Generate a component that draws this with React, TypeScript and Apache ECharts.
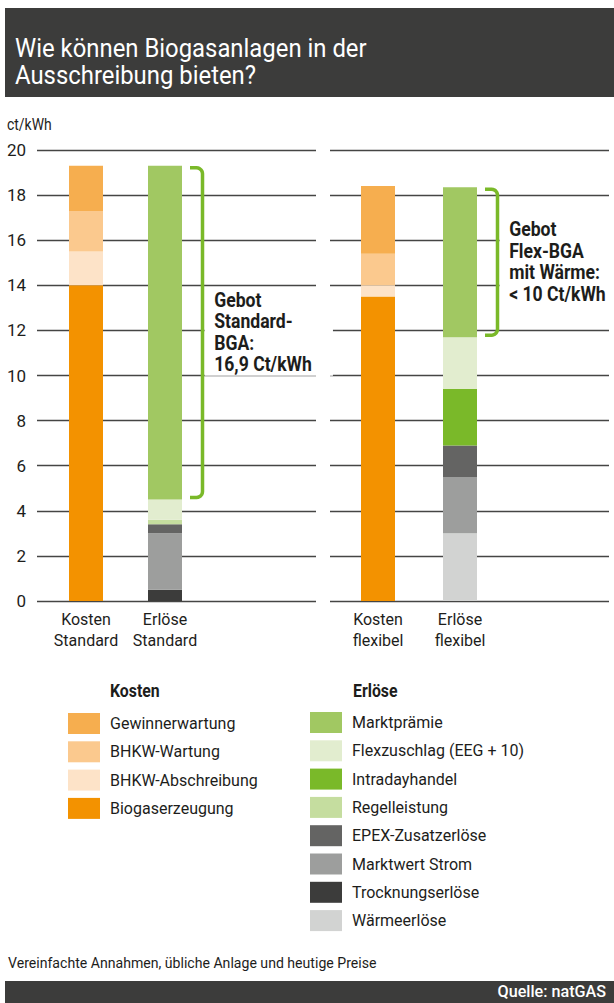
import React, { useEffect, useRef } from 'react';
import * as echarts from 'echarts';

const FONT = "Roboto, 'Liberation Sans', sans-serif";
const INK = '#1d1d1b';
const DARK = '#3c3c3b';

const titleText = 'Wie können Biogasanlagen in der\nAusschreibung bieten?';
const unitText = 'ct/kWh';
const noteText = 'Vereinfachte Annahmen, übliche Anlage und heutige Preise';
const sourceText = 'Quelle: natGAS';

const yMin = 0;
const yMax = 20;
const yInterval = 2;

const categoriesStandard = ['Kosten\nStandard', 'Erlöse\nStandard'];
const categoriesFlex = ['Kosten\nflexibel', 'Erlöse\nflexibel'];

// Kosten, bottom to top
const kostenNames = ['Biogaserzeugung', 'BHKW-Abschreibung', 'BHKW-Wartung', 'Gewinnerwartung'];
const kostenColors = ['#f39200', '#fde3c8', '#fbc98e', '#f6ae4f'];
const kostenStandard = [14.0, 1.5, 1.8, 2.0];
const kostenFlex = [13.5, 0.5, 1.4, 3.0];

// Erlöse, bottom to top
const erloesNames = [
  'Wärmeerlöse',
  'Trocknungserlöse',
  'Marktwert Strom',
  'EPEX-Zusatzerlöse',
  'Regelleistung',
  'Intradayhandel',
  'Flexzuschlag (EEG + 10)',
  'Marktprämie',
];
const erloesColors = ['#d2d3d2', '#3c3c3b', '#9d9e9d', '#646463', '#c5dd9f', '#7ab929', '#e2edcf', '#a1c862'];
const erloesStandard = [0, 0.5, 2.5, 0.4, 0.2, 0, 0.9, 14.8];
const erloesFlex = [3.0, 0, 2.5, 1.4, 0, 2.5, 2.3, 6.65];

const gebotStandard = 'Gebot\nStandard-\nBGA:\n16,9 Ct/kWh';
const gebotFlex = 'Gebot\nFlex-BGA\nmit Wärme:\n< 10 Ct/kWh';

const BRACKET = '#7ab929';
const BAR_W = 34;

const sum = (a: number[]) => a.reduce((s, v) => s + v, 0);

function bracketSeries(axisIndex: number, values: number[], label: string) {
  const low = sum(values.slice(0, values.length - 1));
  const high = sum(values);
  return {
    type: 'custom',
    xAxisIndex: axisIndex,
    yAxisIndex: axisIndex,
    clip: false,
    z: 5,
    silent: true,
    data: [[1, low, high]],
    renderItem: (params: any, api: any) => {
      const c = api.value(0);
      const pTop = api.coord([c, api.value(2)]);
      const pBot = api.coord([c, api.value(1)]);
      const barRight = pTop[0] + BAR_W / 2;
      const x0 = barRight + 8;
      const xv = barRight + 20.5;
      const yT = pTop[1] + 2;
      const yB = pBot[1] - 2;
      const r = 6;
      const pts: number[][] = [[x0, yT]];
      for (let i = 0; i <= 6; i++) {
        const a = -Math.PI / 2 + (Math.PI / 2) * (i / 6);
        pts.push([xv - r + r * Math.cos(a), yT + r + r * Math.sin(a)]);
      }
      for (let i = 0; i <= 6; i++) {
        const a = (Math.PI / 2) * (i / 6);
        pts.push([xv - r + r * Math.cos(a), yB - r + r * Math.sin(a)]);
      }
      pts.push([x0, yB]);
      return {
        type: 'group',
        children: [
          {
            type: 'text',
            x: xv + 2,
            y: (yT + yB) / 2,
            scaleX: 0.88,
            z2: 1,
            style: {
              text: label,
              fontFamily: FONT,
              fontSize: 20,
              fontWeight: 'bold',
              lineHeight: 21.5,
              fill: INK,
              align: 'left',
              verticalAlign: 'middle',
              backgroundColor: '#ffffff',
              padding: [0, 24, 0, 11],
            },
          },
          {
            type: 'polyline',
            z2: 2,
            shape: { points: pts },
            style: { stroke: BRACKET, lineWidth: 3.5, fill: null, lineJoin: 'round' },
          },
        ],
      };
    },
  };
}

function barSeries(axisIndex: number, kosten: number[], erloese: number[]) {
  const out: any[] = [];
  const stack = 'stack' + axisIndex;
  kostenNames.forEach((name, i) => {
    out.push({
      type: 'bar',
      name,
      xAxisIndex: axisIndex,
      yAxisIndex: axisIndex,
      stack,
      barWidth: BAR_W,
      itemStyle: { color: kostenColors[i] },
      data: [kosten[i] ? kosten[i] : '-', '-'],
    });
  });
  erloesNames.forEach((name, i) => {
    out.push({
      type: 'bar',
      name,
      xAxisIndex: axisIndex,
      yAxisIndex: axisIndex,
      stack,
      barWidth: BAR_W,
      itemStyle: { color: erloesColors[i] },
      data: ['-', erloese[i] ? erloese[i] : '-'],
    });
  });
  return out;
}

const gridTop = 150;
const gridHeight = 451;

function valueAxis(gridIndex: number, showLabels: boolean, showSplit: boolean) {
  return {
    type: 'value',
    gridIndex,
    min: yMin,
    max: yMax,
    interval: yInterval,
    axisLine: { show: false },
    axisTick: { show: false },
    axisLabel: {
      show: showLabels,
      fontFamily: FONT,
      fontSize: 17,
      color: INK,
      margin: 11,
    },
    splitLine: { show: showSplit, lineStyle: { color: '#454544', width: 1.3 } },
  };
}

function categoryAxis(gridIndex: number, data: string[]) {
  return {
    type: 'category',
    gridIndex,
    data,
    axisLine: { show: false },
    axisTick: { show: false },
    axisLabel: {
      fontFamily: FONT,
      fontSize: 16,
      lineHeight: 21,
      color: INK,
      margin: 8,
      interval: 0,
    },
  };
}

function legendBlock(names: string[], left: number, top: number) {
  return {
    data: names,
    orient: 'vertical',
    left,
    top,
    padding: 0,
    itemWidth: 32,
    itemHeight: 21,
    itemGap: 7.3,
    icon: 'rect',
    selectedMode: false,
    textStyle: { fontFamily: FONT, fontSize: 16, color: INK, padding: [0, 0, 0, 5] },
  };
}

function label(text: string, x: number, y: number, size: number, sx: number, extra: any = {}) {
  return {
    type: 'text',
    x,
    y,
    scaleX: sx,
    style: { text, fontFamily: FONT, fontSize: size, fill: INK, verticalAlign: 'middle', align: 'left', ...extra },
  };
}

function buildOption() {
  return {
    animation: false,
    backgroundColor: '#ffffff',
    textStyle: { fontFamily: FONT },
    grid: [
      { left: 37, width: 279, top: gridTop, height: gridHeight },
      { left: 330, width: 279, top: gridTop, height: gridHeight },
      { left: 46.5, width: 158, top: gridTop, height: gridHeight },
      { left: 337, width: 164, top: gridTop, height: gridHeight },
    ],
    xAxis: [
      { type: 'value', gridIndex: 0, show: false },
      { type: 'value', gridIndex: 1, show: false },
      categoryAxis(2, categoriesStandard),
      categoryAxis(3, categoriesFlex),
    ],
    yAxis: [
      valueAxis(0, true, true),
      valueAxis(1, false, true),
      { ...valueAxis(2, false, false), show: false },
      { ...valueAxis(3, false, false), show: false },
    ],
    legend: [
      legendBlock([...kostenNames].reverse(), 68, 713),
      legendBlock([...erloesNames].reverse(), 310, 712),
    ],
    series: [
      ...barSeries(2, kostenStandard, erloesStandard),
      ...barSeries(3, kostenFlex, erloesFlex),
      bracketSeries(2, erloesStandard, gebotStandard),
      bracketSeries(3, erloesFlex, gebotFlex),
    ],
    graphic: [
      { type: 'rect', shape: { x: 5, y: 8, width: 609, height: 89 }, style: { fill: DARK } },
      label(titleText, 15, 61.4, 25, 0.955, { lineHeight: 27, fill: '#ffffff' }),
      label(unitText, 7, 125, 17, 0.82),
      label('Kosten', 110, 690.5, 18, 0.88, { fontWeight: 'bold' }),
      label('Erlöse', 353, 690.5, 18, 0.88, { fontWeight: 'bold' }),
      label(noteText, 8, 963, 15, 0.94),
      { type: 'rect', shape: { x: 5, y: 981, width: 609, height: 22 }, style: { fill: DARK } },
      {
        type: 'text',
        x: 606,
        y: 991.5,
        scaleX: 0.95,
        style: {
          text: sourceText,
          fontFamily: FONT,
          fontSize: 17,
          fontWeight: 500,
          fill: '#ffffff',
          align: 'right',
          verticalAlign: 'middle',
        },
      },
    ],
  };
}

export default function App() {
  const ref = useRef<HTMLDivElement>(null);
  useEffect(() => {
    if (!ref.current) return;
    const chart = echarts.init(ref.current, null, { renderer: 'svg' });
    chart.setOption(buildOption() as any);
    return () => chart.dispose();
  }, []);
  return (
    <div
      ref={ref}
      style={{ position: 'fixed', left: 0, top: 0, width: 614, height: 1003, background: '#ffffff' }}
    />
  );
}
